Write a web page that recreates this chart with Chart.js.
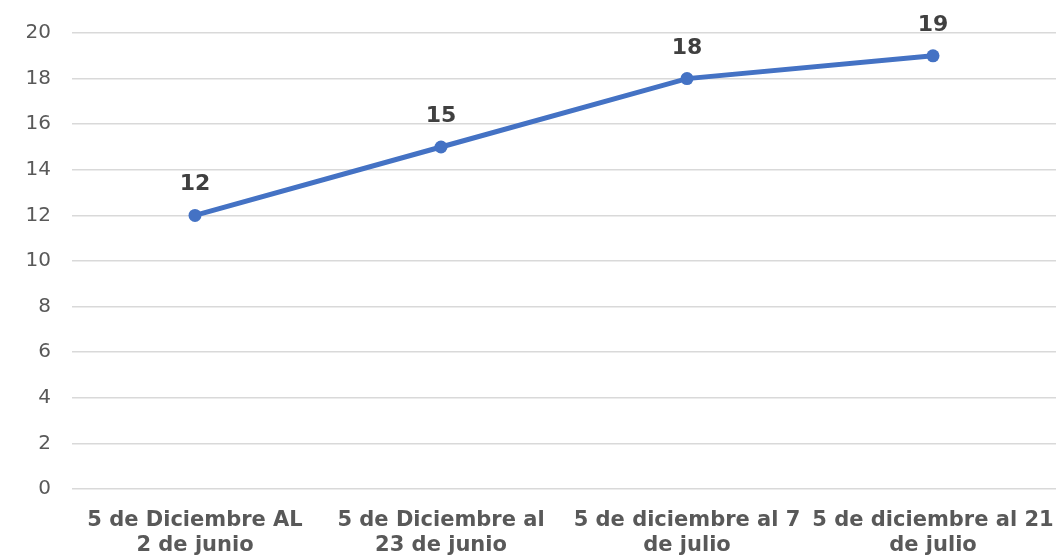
<!DOCTYPE html>
<html>
<head>
<meta charset="utf-8">
<script src="https://cdn.jsdelivr.net/npm/chart.js@4/dist/chart.umd.min.js"></script>
<style>
  html, body { margin: 0; padding: 0; background: #fff; }
  #wrap { width: 1058px; height: 557px; }
</style>
</head>
<body>
<div id="wrap"><canvas id="chart" width="1058" height="557"></canvas></div>
<script>
const categories = [
    ["5 de Diciembre AL", "2 de junio"],
    ["5 de Diciembre al", "23 de junio"],
    ["5 de diciembre al 7", "de julio"],
    ["5 de diciembre al 21", "de julio"]
];
const values = [12, 15, 18, 19];
const yTicks = [0, 2, 4, 6, 8, 10, 12, 14, 16, 18, 20];

const fontFamily = "'DejaVu Sans', 'Open Sans', sans-serif";

// draws the value above each point
const valueLabels = {
    id: "valueLabels",
    afterDatasetsDraw(chart) {
        const ctx = chart.ctx;
        const meta = chart.getDatasetMeta(0);
        ctx.save();
        ctx.font = "bold 22px " + fontFamily;
        ctx.fillStyle = "#404040";
        ctx.textAlign = "center";
        ctx.textBaseline = "alphabetic";
        meta.data.forEach((pt, i) => {
            ctx.fillText(values[i], pt.x, pt.y - 25);
        });
        ctx.restore();
    }
};

const ctx = document.getElementById("chart").getContext("2d");
new Chart(ctx, {
    type: "line",
    data: {
        labels: categories,
        datasets: [{
            data: values,
            borderColor: "#4472C4",
            backgroundColor: "#4472C4",
            borderWidth: 5,
            pointRadius: 6.5,
            pointBackgroundColor: "#4472C4",
            pointBorderWidth: 0,
            tension: 0
        }]
    },
    options: {
        responsive: false,
        animation: false,
        layout: { autoPadding: false, padding: { top: 33, right: 2, left: 0, bottom: 0 } },
        plugins: {
            legend: { display: false },
            tooltip: { enabled: false }
        },
        scales: {
            x: {
                offset: true,
                grid: { display: false },
                border: { display: false },
                ticks: {
                    color: "#595959",
                    font: { family: fontFamily, size: 21, weight: "bold", lineHeight: 1.19 },
                    maxRotation: 0,
                    autoSkip: false,
                    padding: 11
                },
                afterFit(scale) {
                    scale.height = 68;
                    scale.paddingLeft = 0;
                    scale.paddingRight = 0;
                }
            },
            y: {
                min: 0,
                max: 20,
                afterBuildTicks(scale) {
                    scale.ticks = yTicks.map(v => ({ value: v }));
                },
                grid: { color: "#d9d9d9", lineWidth: 1.5, drawTicks: false },
                border: { display: false },
                ticks: {
                    color: "#595959",
                    font: { family: fontFamily, size: 20 },
                    padding: 21
                },
                afterFit(scale) { scale.width = 72; }
            }
        }
    },
    plugins: [valueLabels]
});
</script>
</body>
</html>
